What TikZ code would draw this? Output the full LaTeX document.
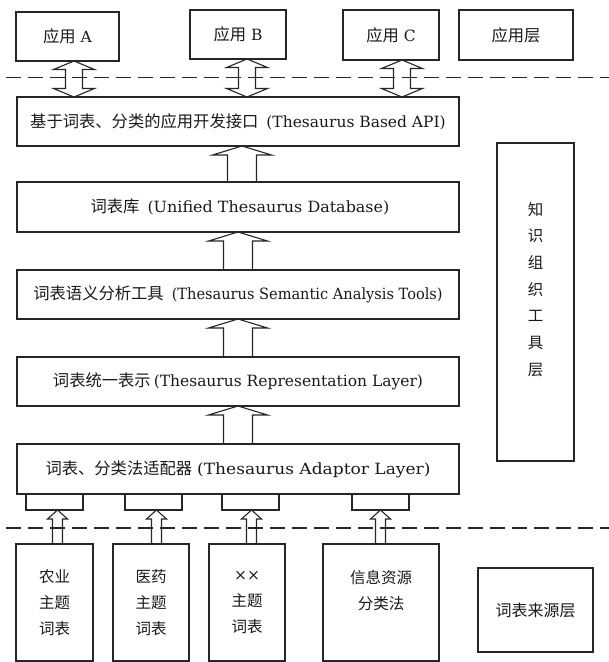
\documentclass[tikz,border=0pt]{standalone}
\usepackage{fontspec}
\setmainfont{DejaVu Serif}
\newfontfamily\cjk{Noto Sans CJK SC}
\newcommand\zhtxt[1]{{\cjk\fontsize{16.3}{26}\selectfont #1}}
\usetikzlibrary{calc}
\tikzset{
  blockup/.style n args={3}{to path={let \p1=(\tikztostart), \p2=(\tikztotarget) in
    (\x1-#1,\y1) -- (\x1-#1,\y2-#3) -- (\x1-#2,\y2-#3) -- (\x1,\y2) --
    (\x1+#2,\y2-#3) -- (\x1+#1,\y2-#3) -- (\x1+#1,\y1) -- cycle}},
  blockboth/.style n args={3}{to path={let \p1=(\tikztostart), \p2=(\tikztotarget) in
    (\x1-#1,\y1+#3) -- (\x1-#2,\y1+#3) -- (\x1,\y1) -- (\x1+#2,\y1+#3) -- (\x1+#1,\y1+#3) --
    (\x1+#1,\y2-#3) -- (\x1+#2,\y2-#3) -- (\x1,\y2) -- (\x1-#2,\y2-#3) -- (\x1-#1,\y2-#3) -- cycle}},
  arrline/.style={draw=black!85, line width=1.1pt, line join=miter},
  layerarrow/.style={arrline, blockup={14.5pt}{29.5pt}{9pt}},
  apiarrow/.style={arrline, blockboth={8.5pt}{20.5pt}{8.5pt}},
  srcarrow/.style={arrline, blockup={5pt}{10pt}{9pt}},
  box/.style={draw=black!85, line width=1.1pt, align=center},
  sepline/.style={draw=black!85, line width=1.3pt, dash pattern=on 15pt off 7pt},
}
\begin{document}
\begin{tikzpicture}[x=1pt,y=-1pt,
  every node/.style={inner sep=0pt, outer sep=0pt, text=black!90,
    font=\fontsize{15.5}{26}\selectfont}]
\useasboundingbox (0,0) rectangle (609,662);

% separators
\coordinate (d1l) at (6,77.5);  \coordinate (d1r) at (609,77.5);
\coordinate (d2l) at (6,528);   \coordinate (d2r) at (609,528);
\draw[sepline] (d1l) -- (d1r);
\draw[sepline] (d2l) -- (d2r);

% application layer
\node[box, minimum width=103, minimum height=49] (appA) at (67.5,36.5) {\zhtxt{应用}~A};
\node[box, minimum width=96, minimum height=49] (appB) at (238,34.5) {\zhtxt{应用}~B};
\node[box, minimum width=96, minimum height=50] (appC) at (391,35) {\zhtxt{应用}~C};
\node[box, minimum width=114, minimum height=50] (appL) at (516,35) {\zhtxt{应用层}};

% knowledge organisation tool layer
\node[box, minimum width=442, minimum height=49] (api) at (238,121.5)
  {\zhtxt{基于词表、分类的应用开发接口}\hspace{8pt}(Thesaurus Based API)};
\node[box, minimum width=442, minimum height=50] (db) at (238,207)
  {\hspace{4pt}\zhtxt{词表库}\hspace{8pt}\scalebox{1.03}[1]{(Unified Thesaurus Database)}};
\node[box, minimum width=442, minimum height=49] (sem) at (238,294.5)
  {\zhtxt{词表语义分析工具}\hspace{8pt}\scalebox{0.94}[1]{(Thesaurus Semantic Analysis Tools)}};
\node[box, minimum width=442, minimum height=49] (rep) at (238,381.5)
  {\zhtxt{词表统一表示}\hspace{3pt}(Thesaurus Representation Layer)};
\node[box, minimum width=442, minimum height=50] (ada) at (238,469)
  {\zhtxt{词表、分类法适配器}\hspace{5pt}\scalebox{1.1}[1]{(Thesaurus Adaptor Layer)}};

\node[box, minimum width=57, minimum height=16] (s1) at (54.5,502) {};
\node[box, minimum width=57, minimum height=16] (s2) at (153.5,502) {};
\node[box, minimum width=57, minimum height=16] (s3) at (250.5,502) {};
\node[box, minimum width=57, minimum height=16] (s4) at (380.5,502) {};

\node[box, minimum width=77, minimum height=318,
  font=\fontsize{15.5}{26.7}\selectfont\cjk] (kol) at (535.5,302)
  {知\\识\\组\\织\\工\\具\\层\\~};

% source layer
\node[box, minimum width=77, minimum height=117, font=\fontsize{15.5}{26}\selectfont\cjk] (t1) at (54.5,602.5) {农业\\主题\\词表};
\node[box, minimum width=76, minimum height=117, font=\fontsize{15.5}{26}\selectfont\cjk] (t2) at (151,602.5) {医药\\主题\\词表};
\node[box, minimum width=76, minimum height=117] (t3) at (247,602.5) {××\\{\cjk 主题}\\{\cjk 词表}};
\node[box, minimum width=116, minimum height=117, font=\fontsize{15.5}{26}\selectfont\cjk] (t4) at (381,602.5) {信息资源\\分类法\\~};
\node[box, minimum width=115, minimum height=84, font=\fontsize{16}{26}\selectfont\cjk] (srcL) at (535.5,610) {词表来源层};

% double arrows between applications and API
\draw[apiarrow] ([xshift=6.5pt]appA.south |- api.north) to ([xshift=6.5pt]appA.south);
\draw[apiarrow] ([xshift=9pt]appB.south |- api.north) to ([xshift=9pt]appB.south);
\draw[apiarrow] ([xshift=11pt]appC.south |- api.north) to ([xshift=11pt]appC.south);

% arrows between layers
\draw[layerarrow] ([xshift=4pt]db.north) to ([xshift=4pt]api.south);
\draw[layerarrow] (sem.north) to (db.south);
\draw[layerarrow] (rep.north) to (sem.south);
\draw[layerarrow] (ada.north) to (rep.south);

% arrows from sources to adaptors
\draw[srcarrow] ([xshift=3pt]s1.south |- t1.north) to ([xshift=3pt]s1.south);
\draw[srcarrow] ([xshift=3pt]s2.south |- t2.north) to ([xshift=3pt]s2.south);
\draw[srcarrow] ([xshift=1pt]s3.south |- t3.north) to ([xshift=1pt]s3.south);
\draw[srcarrow] (s4.south |- t4.north) to (s4.south);
\end{tikzpicture}
\end{document}
